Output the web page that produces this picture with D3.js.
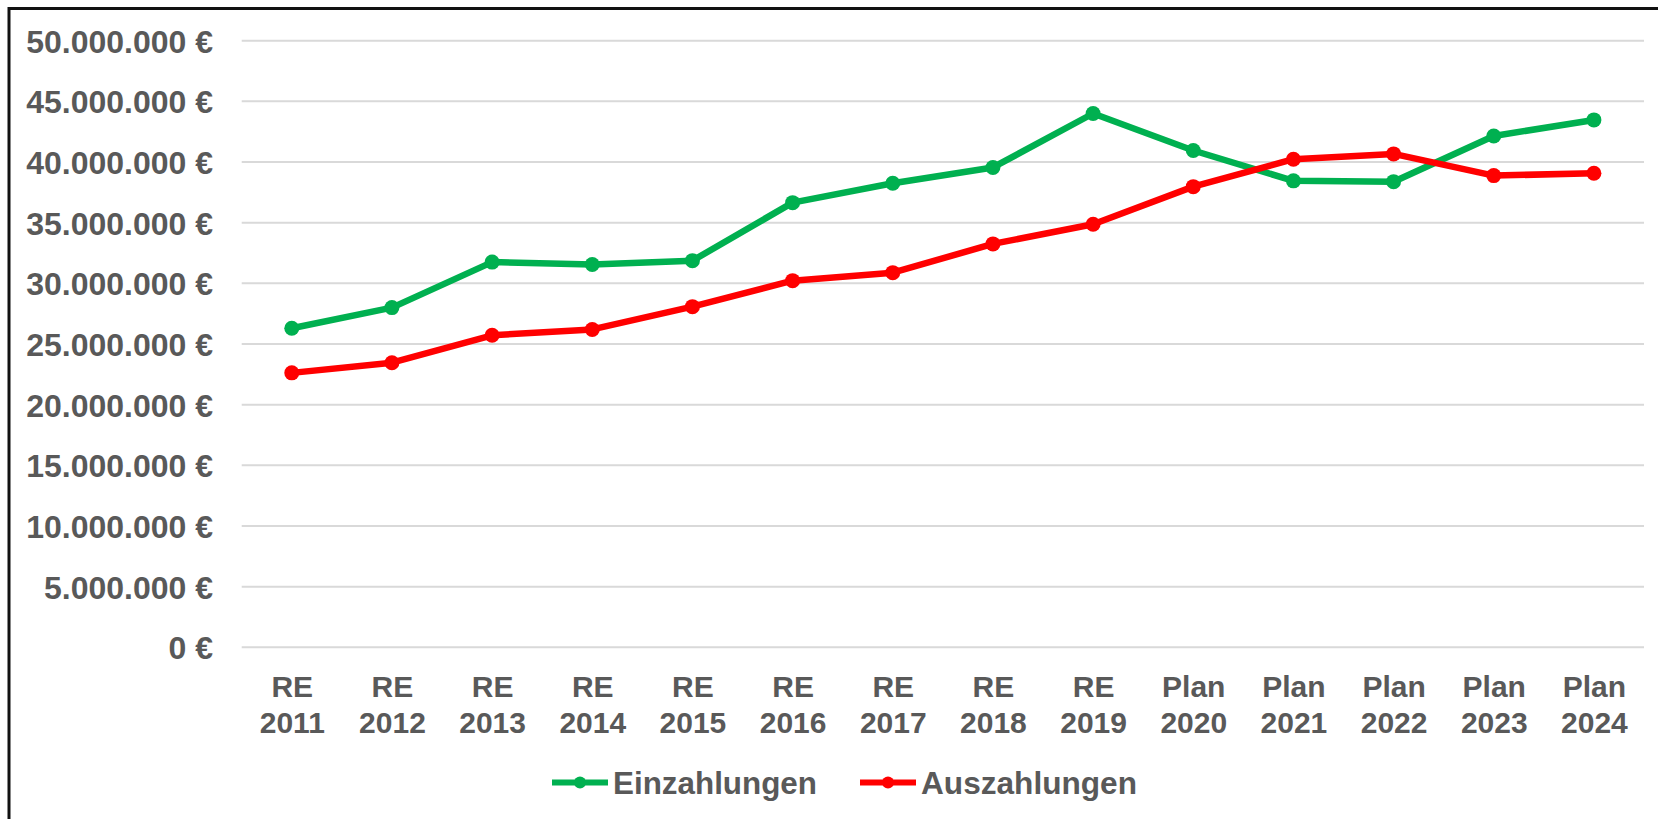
<!DOCTYPE html>
<html>
<head>
<meta charset="utf-8">
<script src="https://cdn.jsdelivr.net/npm/d3@7.9.0/dist/d3.min.js"></script>
<style>
  html, body { margin: 0; padding: 0; background: #fff; }
  svg { display: block; }
  text { font-family: "Liberation Sans", Arial, sans-serif; font-weight: bold; fill: #595959; }
</style>
</head>
<body>
<svg id="chart" width="1658" height="819"></svg>
<script>
const categories = ['RE 2011', 'RE 2012', 'RE 2013', 'RE 2014', 'RE 2015', 'RE 2016', 'RE 2017',
  'RE 2018', 'RE 2019', 'Plan 2020', 'Plan 2021', 'Plan 2022', 'Plan 2023', 'Plan 2024'];

const einzahlungen = [26300000, 28000000, 31750000, 31550000, 31870000, 36650000, 38250000,
  39550000, 44000000, 40950000, 38450000, 38380000, 42150000, 43470000];

const auszahlungen = [22620000, 23460000, 25720000, 26200000, 28080000, 30220000, 30880000,
  33250000, 34870000, 37970000, 40230000, 40670000, 38880000, 39080000];

const yTicks = [0, 5000000, 10000000, 15000000, 20000000, 25000000, 30000000,
  35000000, 40000000, 45000000, 50000000];

const series = [
  { name: 'Einzahlungen', values: einzahlungen, color: '#00b050' },
  { name: 'Auszahlungen', values: auszahlungen, color: '#ff0000' },
];

const svg = d3.select('#chart');

// frame (top + left only)
svg.append('path')
  .attr('d', 'M9,819 L9,8.5 L1658,8.5')
  .attr('fill', 'none')
  .attr('stroke', '#111')
  .attr('stroke-width', 3);

const x = d3.scalePoint().domain(categories).range([241.7, 1644]).padding(0.5);
const y = d3.scaleLinear().domain([0, 50000000]).range([647.3, 40.7]);

const de = d3.formatLocale({ decimal: ',', thousands: '.', grouping: [3], currency: ['', ' €'] });
const fmt = de.format(',.0f');

// gridlines
svg.append('g')
  .selectAll('line')
  .data(yTicks)
  .join('line')
  .attr('x1', 241.7)
  .attr('x2', 1644)
  .attr('y1', d => y(d))
  .attr('y2', d => y(d))
  .attr('stroke', '#d9d9d9')
  .attr('stroke-width', 2);

// y axis labels
const yAxis = svg.append('g')
  .attr('transform', 'translate(213,0)')
  .call(d3.axisLeft(y).tickValues(yTicks).tickSize(0).tickPadding(0).tickFormat(d => fmt(d) + ' €'));
yAxis.select('.domain').remove();
yAxis.selectAll('text')
  .attr('font-size', 32)
  .attr('font-family', null)
  .attr('fill', null)
  .attr('dy', '0.36em');

// x axis labels (two lines)
const xAxis = svg.append('g')
  .attr('transform', 'translate(0,647.3)')
  .call(d3.axisBottom(x).tickSize(0).tickFormat(''));
xAxis.select('.domain').remove();
xAxis.selectAll('.tick text').remove();
xAxis.selectAll('.tick').each(function (d) {
  const parts = d.split(' ');
  const t = d3.select(this).append('text')
    .attr('text-anchor', 'middle')
    .attr('font-size', 30);
  t.append('tspan').attr('x', 0).attr('y', 49.5).text(parts[0]);
  t.append('tspan').attr('x', 0).attr('y', 86).text(parts[1]);
});

// lines + markers
const line = d3.line().x((d, i) => x(categories[i])).y(d => y(d));

series.forEach(s => {
  svg.append('path')
    .datum(s.values)
    .attr('d', line)
    .attr('fill', 'none')
    .attr('stroke', s.color)
    .attr('stroke-width', 6.5)
    .attr('stroke-linejoin', 'round');
  svg.append('g')
    .selectAll('circle')
    .data(s.values)
    .join('circle')
    .attr('cx', (d, i) => x(categories[i]))
    .attr('cy', d => y(d))
    .attr('r', 7.5)
    .attr('fill', s.color);
});

// legend
const legendItems = [
  { x0: 552, len: 204 },
  { x0: 860, len: 216 },
];
series.forEach((s, i) => {
  const g = svg.append('g').attr('transform', `translate(${legendItems[i].x0},782.5)`);
  g.append('line')
    .attr('x1', 0).attr('x2', 56)
    .attr('stroke', s.color)
    .attr('stroke-width', 6);
  g.append('circle').attr('cx', 28).attr('r', 6).attr('fill', s.color);
  g.append('text')
    .attr('x', 61)
    .attr('y', 11)
    .attr('font-size', 32)
    .attr('textLength', legendItems[i].len)
    .attr('lengthAdjust', 'spacingAndGlyphs')
    .text(s.name);
});
</script>
</body>
</html>
